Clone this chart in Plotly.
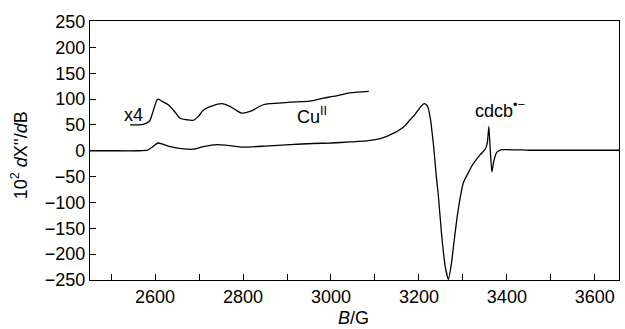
import plotly.graph_objects as go

# Main EPR spectrum (B in gauss, signal in 10^2 dX''/dB)
main_B = [2452, 2500, 2560, 2582, 2595, 2606, 2620, 2635, 2660, 2687, 2710, 2740,
          2770, 2800, 2850, 2907, 2960, 3000, 3043, 3081, 3110, 3127, 3145, 3157,
          3170, 3180, 3191, 3202, 3212, 3218, 3221, 3224, 3227, 3230, 3233, 3236,
          3239, 3244, 3252, 3260, 3267, 3274, 3280, 3286, 3293, 3301, 3312, 3320,
          3327, 3339, 3350, 3354, 3356, 3359, 3362, 3366, 3370, 3377, 3388, 3450,
          3550, 3655]
main_v = [0, 0, 0, 1, 8, 15, 12, 8, 4, 3, 8, 12,
          10, 7, 9, 12, 14, 15, 17, 19, 23, 28, 35, 41,
          50, 60, 70, 83, 91, 88, 83, 72, 57, 35, 12, -15,
          -45, -85, -166, -225, -249, -218, -175, -134, -95, -62, -43, -30,
          -21, -8, 2, 10, 18, 47, 5, -41, -21, -3, 2, 1,
          1, 1]

# Cu(II) region magnified x4
x4_B = [2543, 2560, 2573, 2587, 2595, 2606, 2615, 2630, 2645, 2657, 2672, 2687,
        2698, 2710, 2730, 2752, 2770, 2785, 2797, 2816, 2846, 2880, 2907, 2930,
        2952, 2983, 3005, 3043, 3086]
x4_v = [50, 50, 51, 57, 75, 100, 96, 89, 75, 63, 60, 59,
        66, 79, 87, 91, 86, 78, 73, 76, 89, 92, 94, 95,
        96, 102, 105, 112, 115]

x_tickvals = [2600, 2800, 3000, 3200, 3400, 3600]
x_ticktext = ["2600", "2800", "3000", "3200", "3400", "3600"]
x_minor_tickvals = [2500, 2700, 2900, 3100, 3300, 3500]
y_tickvals = [-250, -200, -150, -100, -50, 0, 50, 100, 150, 200, 250]
y_ticktext = ["\u2212250", "\u2212200", "\u2212150", "\u2212100", "\u221250", "0",
              "50", "100", "150", "200", "250"]

labels = ["x4", "Cu<sup>II</sup>", "cdcb<sup>\u2022\u2212</sup>"]
label_B = [2550, 2957, 3384]
label_v = [70, 68, 80]

FONT = "Liberation Sans, Arial, Helvetica, sans-serif"

fig = go.Figure()
fig.add_trace(go.Scatter(x=main_B, y=main_v, mode="lines",
                         line=dict(color="black", width=1.3, shape="spline", smoothing=0.5),
                         showlegend=False))
fig.add_trace(go.Scatter(x=x4_B, y=x4_v, mode="lines",
                         line=dict(color="black", width=1.3, shape="spline", smoothing=0.8),
                         showlegend=False))

for t, b, v in zip(labels, label_B, label_v):
    fig.add_annotation(x=b, y=v, text=t, showarrow=False,
                       font=dict(family=FONT, size=18, color="black"))

fig.add_annotation(xref="paper", yref="paper", x=0.498, y=-0.148,
                   text="<i>B</i>/G", showarrow=False,
                   xanchor="center", yanchor="middle",
                   font=dict(family=FONT, size=18, color="black"))
fig.add_annotation(xref="paper", yref="paper", x=-0.133, y=0.48,
                   text="10<sup>2</sup> <i>d</i>X''/<i>d</i>B", showarrow=False,
                   textangle=-90, xanchor="center", yanchor="middle",
                   font=dict(family=FONT, size=18, color="black"))

fig.update_layout(
    width=625, height=329,
    margin=dict(l=90, r=6, t=21, b=49),
    paper_bgcolor="white", plot_bgcolor="white",
    font=dict(family=FONT, size=18, color="black"),
    xaxis=dict(range=[2452, 3655], tickmode="array", tickvals=x_tickvals, ticktext=x_ticktext,
               ticks="inside", ticklen=6, tickcolor="black", tickwidth=1,
               minor=dict(tickmode="array", tickvals=x_minor_tickvals, ticks="inside",
                          ticklen=6, tickcolor="black", tickwidth=1, showgrid=False),
               showline=True, linecolor="black", linewidth=1.2, mirror=True,
               showgrid=False, zeroline=False, automargin=False),
    yaxis=dict(range=[-250, 251], tickmode="array", tickvals=y_tickvals, ticktext=y_ticktext,
               ticks="inside", ticklen=6, tickcolor="black", tickwidth=1,
               showline=True, linecolor="black", linewidth=1.2, mirror=True,
               showgrid=False, zeroline=False, automargin=False),
)

fig.write_html("out.html", config={"displayModeBar": False},
               post_script="document.body.style.margin='0';document.body.style.overflow='hidden';")
